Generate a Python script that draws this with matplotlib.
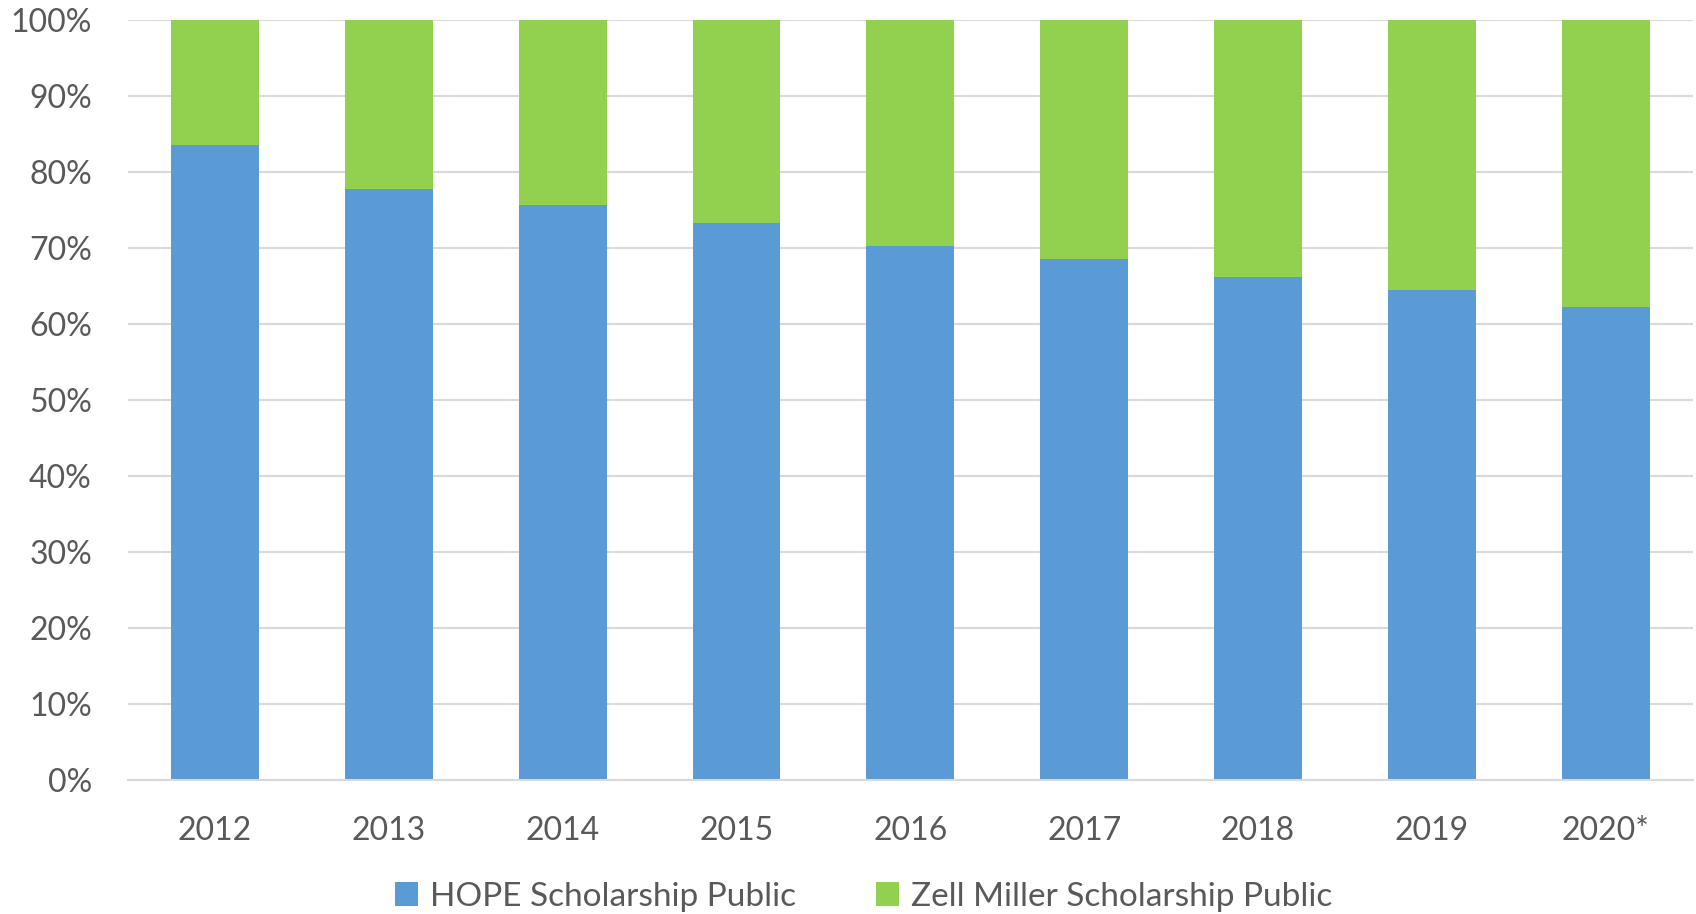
import matplotlib.pyplot as plt
import numpy as np

# HOPE vs Zell Miller share (public institutions)
anos = ["2012", "2013", "2014", "2015", "2016", "2017", "2018", "2019", "2020*"]
hope_public = [83.5, 77.8, 75.6, 73.3, 70.3, 68.5, 66.2, 64.5, 62.2]
zell_public = [100 - v for v in hope_public]

cor_texto = '#595959'
plt.rcParams['font.family'] = ['Lato', 'DejaVu Sans']

x = np.arange(len(anos))
largura = 0.506

fig = plt.figure(figsize=(16.96, 9.14), dpi=100)
ax = fig.add_axes([0.0755, 0.1466, 0.9225, 0.8315])

ax.bar(x, hope_public, largura, color='#5B9BD5', label='HOPE Scholarship Public', zorder=2)
ax.bar(x, zell_public, largura, bottom=hope_public, color='#92D050',
       label='Zell Miller Scholarship Public', zorder=2)

ax.set_xlim(-0.5, len(anos) - 0.5)
ax.set_ylim(0, 100)
ax.set_yticks(np.arange(0, 101, 10))
ax.set_yticklabels([f'{v}%' for v in range(0, 101, 10)])
ax.set_xticks(x)
ax.set_xticklabels(anos)
ax.tick_params(axis='both', length=0, labelsize=23, labelcolor=cor_texto)
ax.tick_params(axis='y', pad=26)
ax.tick_params(axis='x', pad=26)

ax.grid(axis='y', color='#D9D9D9', linewidth=1.5, zorder=0)
for lado in ['top', 'right', 'left']:
    ax.spines[lado].set_visible(False)
ax.spines['bottom'].set_color('#D9D9D9')
ax.spines['bottom'].set_linewidth(1.5)

leg = fig.legend(loc='center', bbox_to_anchor=(0.509, 0.019), ncol=2, frameon=False,
                 fontsize=24, handlelength=0.7, handleheight=0.7, handletextpad=0.35,
                 columnspacing=2.4)
for t in leg.get_texts():
    t.set_color(cor_texto)

plt.savefig('out.png', dpi=100)
plt.close(fig)
